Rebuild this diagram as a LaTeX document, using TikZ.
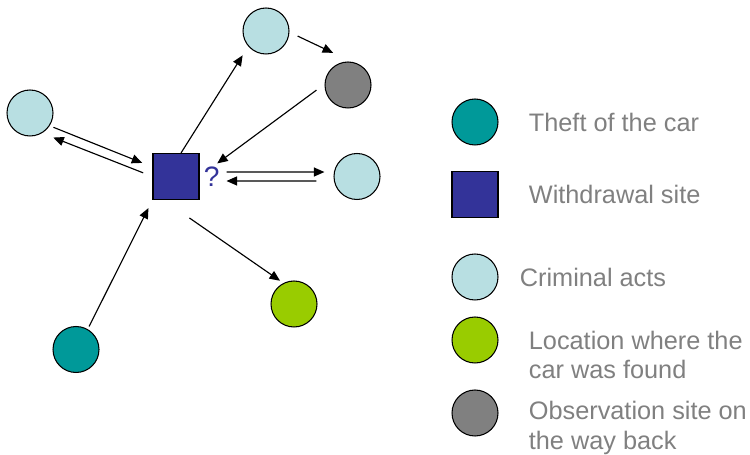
\documentclass[tikz,border=0pt]{standalone}
\usepackage{fontspec}
\setmainfont{Liberation Sans}
\usetikzlibrary{arrows.meta,positioning}
\definecolor{teal}{HTML}{009999}
\definecolor{indigo}{HTML}{333399}
\definecolor{ice}{HTML}{B8DFE2}
\definecolor{lime}{HTML}{99CC00}
\definecolor{stone}{HTML}{808080}
\definecolor{label}{HTML}{808080}
\tikzset{
  site/.style={circle,draw=black,line width=0.6pt,minimum size=0.92cm,inner sep=0pt},
  theft/.style={site,fill=teal},
  crime/.style={site,fill=ice},
  found/.style={site,fill=lime},
  observe/.style={site,fill=stone},
  withdraw/.style={rectangle,draw=black,line width=0.6pt,fill=indigo,minimum size=0.92cm,inner sep=0pt},
  key/.style={font=\fontsize{14.4}{17}\selectfont,text=label,align=left,inner sep=0pt},
  flow/.style={-{Triangle[length=0.21cm,width=0.18cm]},line width=0.65pt,draw=black}
}

\begin{document}
\begin{tikzpicture}[x=0.02cm,y=-0.02cm]
\useasboundingbox (0,0) rectangle (750,455);
% sites on the map
\node[withdraw] (sq) at (176,176.5) {};
\node[key,font=\fontsize{16}{18}\selectfont,text=indigo,right=0.08cm of sq] (mark) {?};
\node[crime] (crimL) at (30,113) {};
\node[crime] (crimT) at (266,31) {};
\node[observe] (obs) at (348,85) {};
\node[crime] (crimR) at (357,176.5) {};
\node[theft] (theft) at (76,349.5) {};
\node[found] (found) at (294,304) {};

% legend
\node[theft] (keyTheft) at (475,122) {};
\node[withdraw] (keyWithdraw) at (475,194.5) {};
\node[crime] (keyCrime) at (475,277) {};
\node[found] (keyFound) at (475,340) {};
\node[observe] (keyObs) at (475,413) {};
\node[key,right=0.6cm of keyTheft] (txtTheft) {Theft of the car};
\node[key,right=0.6cm of keyWithdraw] (txtWithdraw) {Withdrawal site};
\node[key,right=0.42cm of keyCrime] (txtCrime) {Criminal acts};
\node[key,right=0.6cm of keyFound,yshift=-0.3cm] (txtFound) {Location where the\\car was found};
\node[key,right=0.6cm of keyObs,yshift=-0.3cm] (txtObs) {Observation site on\\the way back};

% routes
\draw[flow,shorten >=0.21cm] ([xshift=0.1cm]sq.north) -- (crimT.-139);
\draw[flow,shorten <=0.18cm,shorten >=0.42cm] (crimT.-3) -- (obs.80);
\draw[flow,shorten <=0.2cm,shorten >=0.44cm] (obs.178) -- (sq.east);
\draw[flow,shorten <=0.08cm,shorten >=0.22cm] (crimL.-33) -- ([yshift=0.19cm]sq.west);
\draw[flow,shorten <=0.2cm,shorten >=0.24cm] (sq.west) -- (crimL.-59);
\draw[flow,shorten <=0.54cm,shorten >=0.19cm] ([yshift=0.09cm]sq.east) -- (crimR.169);
\draw[flow,shorten <=0.35cm,shorten >=0.54cm] (crimR.191) -- ([yshift=-0.09cm]sq.east);
\draw[flow,shorten <=0.06cm,shorten >=0.18cm] (theft.60) -- (sq.south west);
\draw[flow,shorten <=0.63cm,shorten >=0.08cm] ([xshift=-0.25cm]sq.south) -- (found.117);
\end{tikzpicture}
\end{document}
